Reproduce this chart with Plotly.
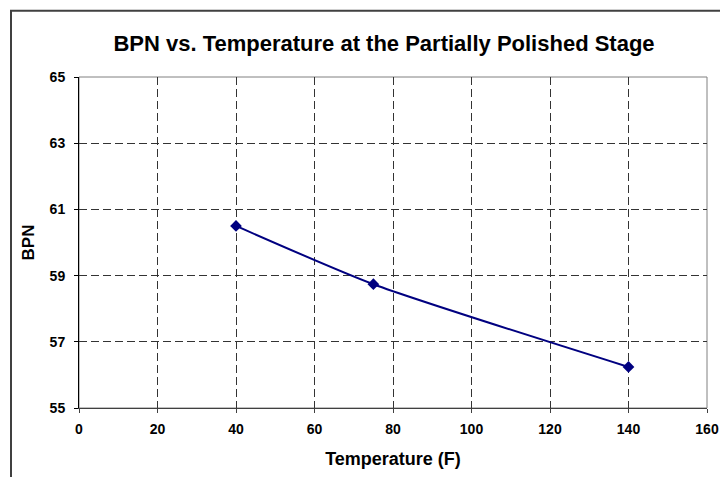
import plotly.graph_objects as go

temperature = [40, 75, 140]
bpn = [60.5, 58.74, 56.24]
x_ticks = [0, 20, 40, 60, 80, 100, 120, 140, 160]
y_ticks = [55, 57, 59, 61, 63, 65]

FONT = "Liberation Sans, Arial, sans-serif"
W, H = 720, 477
L, R, T, B = 79, 13, 76.5, 68.5
pw, ph = W - L - R, H - T - B

fig = go.Figure()
fig.add_trace(go.Scatter(
    x=temperature, y=bpn, mode="lines+markers",
    line=dict(color="#000080", width=2, shape="spline", smoothing=0.6),
    marker=dict(symbol="diamond", size=9, color="#000080"),
    showlegend=False,
))

axis_common = dict(
    showline=True, linewidth=1, automargin=False,
    ticks="outside", ticklen=4, tickwidth=1,
    showgrid=True, gridcolor="#333333", gridwidth=1, griddash="8px,4px",
    zeroline=False,
    tickfont=dict(family=FONT, size=14, color="#000000", weight="bold"),
)

fig.update_layout(
    width=W, height=H,
    margin=dict(l=L, r=R, t=T, b=B, autoexpand=False),
    paper_bgcolor="white", plot_bgcolor="white",
    title=dict(text="<b>BPN vs. Temperature at the Partially Polished Stage</b>",
               font=dict(family=FONT, size=22, color="#000000"),
               x=384 / W, xanchor="center", xref="container",
               y=1 - 43 / H, yanchor="middle", yref="container"),
    xaxis=dict(range=[0, 160], tickvals=x_ticks,
               linecolor="#404040", tickcolor="#404040",
               ticklabelstandoff=4,
               title=dict(text="<b>Temperature (F)</b>", standoff=16,
                          font=dict(family=FONT, size=18, color="#000000")),
               **axis_common),
    yaxis=dict(range=[55, 65], tickvals=y_ticks,
               linecolor="#000000", tickcolor="#000000",
               ticklabelstandoff=6,
               title=dict(text="<b>BPN</b>", standoff=10,
                          font=dict(family=FONT, size=17, color="#000000")),
               **axis_common),
    shapes=[
        dict(type="rect", xref="paper", yref="paper", x0=0, x1=1, y0=0, y1=1,
             line=dict(color="#808080", width=1), layer="below"),
        dict(type="rect", xref="paper", yref="paper",
             x0=(11 - L) / pw, x1=(W + 10 - L) / pw,
             y0=-(B + 10) / ph, y1=(H - B - 10) / ph,
             line=dict(color="#404040", width=2), layer="below"),
    ],
)

fig.write_html("out.html", config={"displayModeBar": False},
               post_script="document.body.style.margin='0';")
